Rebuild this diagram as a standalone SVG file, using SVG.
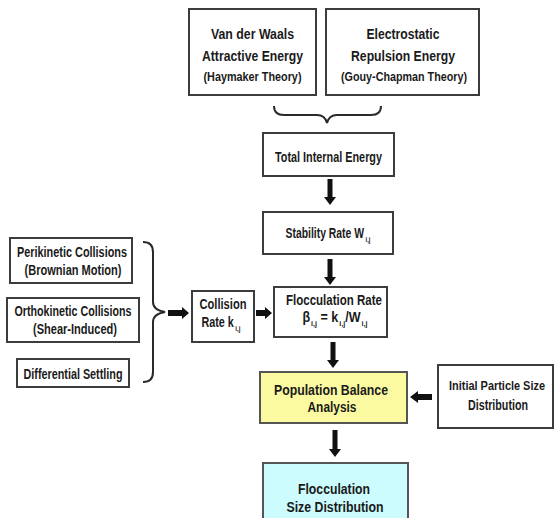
<svg xmlns="http://www.w3.org/2000/svg" width="554" height="527" viewBox="0 0 554 527">
<style>
.box{fill:#ffffff;stroke:#3c3c3c;stroke-width:2}
.yel{fill:#fbfaa0;stroke:#555;stroke-width:2}
.cyn{fill:#ccfcfd}
.cynb{fill:none;stroke:#555;stroke-width:2}
text{font-family:"Liberation Sans",Arial,sans-serif;font-weight:bold;fill:#1a1a1a;text-anchor:middle}
.t14{font-size:14px}
.t13{font-size:13px}
.t12{font-size:12px}
.sub{font-size:8px}
.brace{fill:none;stroke:#2a2a2a;stroke-width:2}
.arr{fill:#111}
</style>
<rect width="554" height="527" fill="#ffffff"/>
<g id="vdw">
<rect class="box" x="189" y="9" width="127" height="86"/>
<text class="t14" x="252.5" y="39" textLength="83" lengthAdjust="spacingAndGlyphs">Van der Waals</text>
<text class="t14" x="252.5" y="61" textLength="101" lengthAdjust="spacingAndGlyphs">Attractive Energy</text>
<text class="t13" x="252.5" y="81" textLength="98" lengthAdjust="spacingAndGlyphs">(Haymaker Theory)</text>
</g>
<g id="electro">
<rect class="box" x="326" y="9" width="153" height="86"/>
<text class="t14" x="403" y="39" textLength="73" lengthAdjust="spacingAndGlyphs">Electrostatic</text>
<text class="t14" x="403" y="61" textLength="104" lengthAdjust="spacingAndGlyphs">Repulsion Energy</text>
<text class="t13" x="404" y="81" textLength="126" lengthAdjust="spacingAndGlyphs">(Gouy-Chapman Theory)</text>
</g>
<g id="total">
<rect class="box" x="263" y="133" width="131" height="43"/>
<text class="t14" x="328.5" y="162" textLength="107" lengthAdjust="spacingAndGlyphs">Total Internal Energy</text>
</g>
<g id="stability">
<rect class="box" x="263" y="212" width="130" height="42"/>
<text class="t14" x="328" y="238" textLength="85" lengthAdjust="spacingAndGlyphs">Stability Rate W<tspan class="sub" dx="2" dy="4">i,j</tspan></text>
</g>
<g id="floc-rate">
<rect class="box" x="274" y="287" width="113" height="50"/>
<text class="t14" x="334" y="305" textLength="96" lengthAdjust="spacingAndGlyphs">Flocculation Rate</text>
<text class="t14" x="335" y="322" textLength="65" lengthAdjust="spacingAndGlyphs">β<tspan class="sub" dx="1" dy="4">i,j</tspan><tspan dy="-4"> = k</tspan><tspan class="sub" dx="1" dy="4">i,j</tspan><tspan dy="-4">/W</tspan><tspan class="sub" dx="1" dy="4">i,j</tspan></text>
</g>
<g id="collision">
<rect class="box" x="192" y="291" width="62" height="51"/>
<text class="t14" x="223" y="309" textLength="47" lengthAdjust="spacingAndGlyphs">Collision</text>
<text class="t14" x="221" y="327" textLength="39" lengthAdjust="spacingAndGlyphs">Rate k<tspan class="sub" dx="2" dy="4">i,j</tspan></text>
</g>
<g id="perikinetic">
<rect class="box" x="10" y="238" width="122" height="45"/>
<text class="t14" x="72" y="257" textLength="110" lengthAdjust="spacingAndGlyphs">Perikinetic Collisions</text>
<text class="t14" x="73" y="275" textLength="97" lengthAdjust="spacingAndGlyphs">(Brownian Motion)</text>
</g>
<g id="orthokinetic">
<rect class="box" x="7" y="298" width="132" height="44"/>
<text class="t14" x="73" y="316" textLength="117" lengthAdjust="spacingAndGlyphs">Orthokinetic Collisions</text>
<text class="t14" x="75" y="334" textLength="84" lengthAdjust="spacingAndGlyphs">(Shear-Induced)</text>
</g>
<g id="differential">
<rect class="box" x="17" y="359" width="112" height="28"/>
<text class="t14" x="73" y="379" textLength="99" lengthAdjust="spacingAndGlyphs">Differential Settling</text>
</g>
<g id="population">
<rect class="yel" x="260" y="372" width="147" height="51"/>
<text class="t14" x="331" y="395" textLength="114" lengthAdjust="spacingAndGlyphs">Population Balance</text>
<text class="t14" x="332" y="412" textLength="49" lengthAdjust="spacingAndGlyphs">Analysis</text>
</g>
<g id="initial">
<rect class="box" x="438" y="365" width="115" height="63"/>
<text class="t12" x="497" y="390" textLength="96" lengthAdjust="spacingAndGlyphs">Initial Particle Size</text>
<text class="t14" x="498" y="410" textLength="60" lengthAdjust="spacingAndGlyphs">Distribution</text>
</g>
<g id="floc-size">
<rect class="cyn" x="263" y="463" width="145" height="55"/>
<path class="cynb" d="M263,518 V463 H408 V518"/>
<text class="t14" x="334" y="494" textLength="72" lengthAdjust="spacingAndGlyphs">Flocculation</text>
<text class="t14" x="335" y="512" textLength="97" lengthAdjust="spacingAndGlyphs">Size Distribution</text>
</g>
<g id="connectors">
<path class="brace" d="M274,106 Q274,115 284,115 L317,115 Q325,115 327,123 Q329,115 337,115 L371,115 Q381,115 381,106"/>
<path class="brace" d="M143,242 Q153,242 153,252 L153,302 Q153,310 165,312 Q153,314 153,322 L153,372 Q153,382 143,382"/>
<polygon class="arr" points="327.5,179 332.5,179 332.5,197 336,197 330,205 324,197 327.5,197"/>
<polygon class="arr" points="327.5,259 332.5,259 332.5,277 336,277 330,285 324,277 327.5,277"/>
<polygon class="arr" points="330.5,342 335.5,342 335.5,360 339,360 333,368 327,360 330.5,360"/>
<polygon class="arr" points="332.5,430 337.5,430 337.5,449 341,449 335,457 329,449 332.5,449"/>
<polygon class="arr" points="168,310 182,310 182,307 189,313 182,319 182,316 168,316"/>
<polygon class="arr" points="256,310 265,310 265,307 272,313 265,319 265,316 256,316"/>
<polygon class="arr" points="432,394 418,394 418,391 410,397 418,403 418,400 432,400"/>
</g>
</svg>
